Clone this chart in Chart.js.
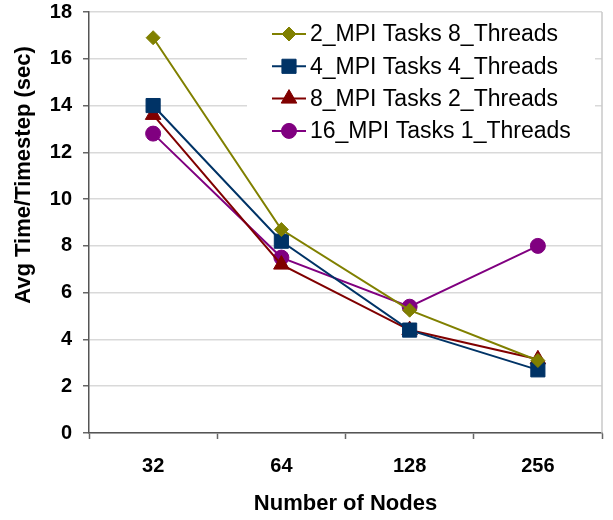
<!DOCTYPE html>
<html>
<head>
<meta charset="utf-8">
<script src="https://cdn.jsdelivr.net/npm/chart.js@4.4.0/dist/chart.umd.min.js"></script>
<style>
  html, body { margin: 0; padding: 0; background: #fff; }
  #wrap { width: 613px; height: 520px; }
</style>
</head>
<body>
<div id="wrap"><canvas id="myChart" width="613" height="520"></canvas></div>
<script>
var nodes = ['32', '64', '128', '256'];
var seriesNames = ['2_MPI Tasks 8_Threads', '4_MPI Tasks 4_Threads', '8_MPI Tasks 2_Threads', '16_MPI Tasks 1_Threads'];
var mpi2 = [16.9, 8.7, 5.25, 3.1];
var mpi4 = [14.0, 8.2, 4.4, 2.7];
var mpi8 = [13.6, 7.2, 4.4, 3.15];
var mpi16 = [12.8, 7.5, 5.4, 8.0];
var yTicks = [0, 2, 4, 6, 8, 10, 12, 14, 16, 18];
var yTitle = 'Avg Time/Timestep (sec)';

var colors = ['#808000', '#003366', '#800000', '#800080'];
var styles = ['rectRot', 'rect', 'triangle', 'circle'];
var radii = [7, 10, 9, 7.5];
var font = '"Liberation Sans", Arial, sans-serif';

function makeSet(i, values) {
    return {
        label: seriesNames[i],
        data: values,
        borderColor: colors[i],
        backgroundColor: colors[i],
        pointStyle: styles[i],
        pointRadius: radii[i],
        pointHoverRadius: radii[i],
        pointBorderWidth: 1,
        borderWidth: 2,
        tension: 0
    };
}

// white legend box inside the plot, like the original
var boxLegend = {
    id: 'boxLegend',
    beforeDatasetsDraw: function(chart) {
        var ctx = chart.ctx;
        var a = chart.chartArea;
        ctx.save();
        // right border of plot
        ctx.strokeStyle = '#c8c8c8';
        ctx.lineWidth = 1.5;
        ctx.beginPath();
        ctx.moveTo(a.right, a.top);
        ctx.lineTo(a.right, a.bottom);
        ctx.stroke();
        ctx.fillStyle = '#ffffff';
        ctx.fillRect(a.left + 158, a.top + 1, 348, 136);
        ctx.restore();
    },
    afterDatasetsDraw: function(chart) {
        var ctx = chart.ctx;
        var a = chart.chartArea;
        ctx.save();
        chart.data.datasets.forEach(function(ds, i) {
            var y = a.top + 22 + i * 32.3;
            var x0 = a.left + 183;
            ctx.strokeStyle = ds.borderColor;
            ctx.lineWidth = 2;
            ctx.beginPath();
            ctx.moveTo(x0, y);
            ctx.lineTo(x0 + 34, y);
            ctx.stroke();
            ctx.fillStyle = ds.backgroundColor;
            ctx.strokeStyle = ds.borderColor;
            ctx.lineWidth = 1;
            Chart.helpers.drawPoint(ctx, {pointStyle: ds.pointStyle, radius: ds.pointRadius, rotation: 0, borderWidth: 1}, x0 + 17, y);
            ctx.fillStyle = '#000';
            ctx.font = '23px ' + font;
            ctx.textBaseline = 'middle';
            ctx.textAlign = 'left';
            ctx.fillText(ds.label, x0 + 38, y + 1);
        });
        // y axis title, sits above the middle of the axis in the original
        ctx.translate(24, 175);
        ctx.rotate(-Math.PI / 2);
        ctx.font = 'bold 22px ' + font;
        ctx.textAlign = 'center';
        ctx.textBaseline = 'middle';
        ctx.fillText(yTitle, 0, 0);
        ctx.restore();
    }
};

var ctx = document.getElementById('myChart').getContext('2d');
var myChart = new Chart(ctx, {
    type: 'line',
    data: {
        labels: nodes,
        datasets: [makeSet(0, mpi2), makeSet(1, mpi4), makeSet(2, mpi8), makeSet(3, mpi16)]
    },
    options: {
        responsive: false,
        animation: false,
        layout: { padding: { top: 12, right: 9, left: 0, bottom: 0 } },
        plugins: {
            legend: { display: false },
            tooltip: { enabled: false }
        },
        scales: {
            x: {
                offset: true,
                grid: {
                    offset: true,
                    drawOnChartArea: false,
                    drawTicks: true,
                    tickLength: 6,
                    tickColor: '#666',
                    tickWidth: 1.5
                },
                border: { color: '#555', width: 1.5 },
                ticks: {
                    color: '#000',
                    padding: 15,
                    font: { family: font, size: 20, weight: 'bold' }
                },
                title: {
                    display: true,
                    text: 'Number of Nodes',
                    color: '#000',
                    padding: { top: 0, bottom: 3 },
                    font: { family: font, size: 22, weight: 'bold' }
                },
                afterFit: function(scale) {
                    scale.height = 87;
                    scale.paddingLeft = 0;
                    scale.paddingRight = 0;
                }
            },
            y: {
                min: 0,
                max: 18,
                afterBuildTicks: function(scale) {
                    scale.ticks = yTicks.map(function(v) { return { value: v }; });
                },
                grid: {
                    color: '#d9d9d9',
                    lineWidth: 1.5,
                    tickLength: 6,
                    tickColor: '#666',
                    tickWidth: 1.5
                },
                border: { color: '#555', width: 1.5 },
                ticks: {
                    color: '#000',
                    padding: 11,
                    font: { family: font, size: 20, weight: 'bold' }
                },
                title: { display: false },
                afterFit: function(scale) {
                    scale.width = 89;
                    scale.paddingTop = 0;
                    scale.paddingBottom = 0;
                }
            }
        }
    },
    plugins: [boxLegend]
});
</script>
</body>
</html>
